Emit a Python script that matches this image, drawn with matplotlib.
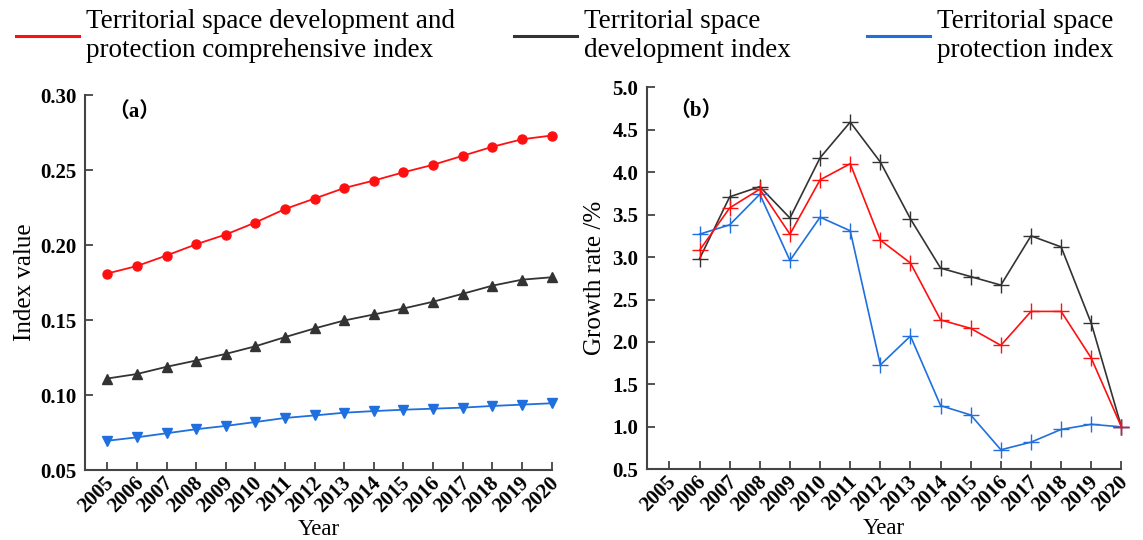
import matplotlib
matplotlib.use("Agg")
import matplotlib.pyplot as plt
from matplotlib.lines import Line2D
from matplotlib.transforms import ScaledTranslation

plt.rcParams['font.family'] = ['Liberation Serif', 'Noto Sans CJK SC']

years = list(range(2005, 2021))
year_labels = [str(y) for y in years]

# Panel (a): index values
comprehensive_index = [0.181, 0.186, 0.193, 0.2005, 0.207, 0.215, 0.224, 0.231, 0.238, 0.243,
                       0.2485, 0.2535, 0.2595, 0.2655, 0.2705, 0.273]
development_index = [0.111, 0.114, 0.1188, 0.123, 0.1274, 0.1325, 0.1386, 0.1444, 0.1497, 0.1537,
                     0.1577, 0.1622, 0.1675, 0.1729, 0.1769, 0.1785]
protection_index = [0.0695, 0.0718, 0.0745, 0.0772, 0.0794, 0.082, 0.0847, 0.0864, 0.0882, 0.0893,
                    0.0902, 0.0909, 0.0916, 0.0927, 0.0936, 0.0945]

# Panel (b): growth rates (%), 2006-2020
growth_years = list(range(2006, 2021))
comprehensive_growth = [3.08, 3.58, 3.80, 3.27, 3.91, 4.10, 3.20, 2.93, 2.26, 2.16, 1.96, 2.36, 2.36, 1.81, 1.00]
development_growth = [2.98, 3.71, 3.83, 3.46, 4.17, 4.59, 4.12, 3.45, 2.87, 2.77, 2.67, 3.25, 3.12, 2.22, 1.00]
protection_growth = [3.27, 3.38, 3.74, 2.96, 3.47, 3.31, 1.73, 2.07, 1.25, 1.14, 0.73, 0.82, 0.97, 1.03, 1.00]

legend_labels = ["Territorial space development and\nprotection comprehensive index",
                 "Territorial space\ndevelopment index",
                 "Territorial space\nprotection index"]

RED = '#FF1010'
BLACK = '#333333'
BLUE = '#1F6FDE'
SPINE = '#444444'

fig = plt.figure(figsize=(11.43, 5.4), dpi=100)
ax_a = fig.add_axes([0.0744, 0.1296, 0.4082, 0.6944])
ax_b = fig.add_axes([0.5659, 0.1309, 0.4152, 0.7074])

offset = ScaledTranslation(11 / 100, 0, fig.dpi_scale_trans)


def style(ax):
    for s in ['top', 'right']:
        ax.spines[s].set_visible(False)
    for s in ['left', 'bottom']:
        ax.spines[s].set_linewidth(1.5)
        ax.spines[s].set_color(SPINE)
    ax.tick_params(axis='both', direction='in', length=6, width=1.3, color=SPINE,
                   labelsize=15)
    ax.tick_params(axis='y', pad=6)
    ax.tick_params(axis='x', pad=2)
    ax.set_xticks(years)
    ax.set_xticklabels(year_labels, rotation=45, ha='right', va='top', fontweight='bold')
    for lab in ax.get_xticklabels():
        lab.set_transform(lab.get_transform() + offset)
    for lab in ax.get_yticklabels():
        lab.set_fontweight('bold')
    ax.set_xlim(2004.25, 2020)
    ax.set_xlabel('Year', fontsize=16.5, labelpad=2)


ax_a.plot(years, comprehensive_index, color=RED, lw=1.3, marker='o', ms=6.5, clip_on=False)
ax_a.plot(years, development_index, color=BLACK, lw=1.3, marker='^', ms=7, clip_on=False)
ax_a.plot(years, protection_index, color=BLUE, lw=1.3, marker='v', ms=7, clip_on=False)
ax_a.set_ylim(0.05, 0.30)
ax_a.set_yticks([0.05, 0.10, 0.15, 0.20, 0.25, 0.30])
ax_a.set_yticklabels(['0.05', '0.10', '0.15', '0.20', '0.25', '0.30'])
style(ax_a)
ax_a.set_ylabel('Index value', fontsize=18, labelpad=3)
ax_a.text(0.105, 0.955, '（a）', transform=ax_a.transAxes, ha='center', va='center',
          fontsize=15, fontweight='bold')

ax_b.plot(growth_years, development_growth, color=BLACK, lw=1.2, marker='+', ms=11, mew=1.0, clip_on=False)
ax_b.plot(growth_years, protection_growth, color=BLUE, lw=1.2, marker='+', ms=11, mew=1.0, clip_on=False)
ax_b.plot(growth_years, comprehensive_growth, color=RED, lw=1.2, marker='+', ms=11, mew=1.0, clip_on=False)
ax_b.set_ylim(0.5, 5.0)
ax_b.set_yticks([0.5, 1.0, 1.5, 2.0, 2.5, 3.0, 3.5, 4.0, 4.5, 5.0])
ax_b.set_yticklabels(['0.5', '1.0', '1.5', '2.0', '2.5', '3.0', '3.5', '4.0', '4.5', '5.0'])
style(ax_b)
ax_b.set_ylabel('Growth rate /%', fontsize=18, labelpad=5)
ax_b.text(0.104, 0.939, '（b）', transform=ax_b.transAxes, ha='center', va='center',
          fontsize=15, fontweight='bold')

# Legend entries across the top
colors = [RED, BLACK, BLUE]
anchors_x = [16 / 1143, 514 / 1143, 867 / 1143]
for lab, c, xa in zip(legend_labels, colors, anchors_x):
    h = Line2D([], [], color=c, lw=2.2)
    fig.legend(handles=[h], labels=[lab], loc='upper left', bbox_to_anchor=(xa, 1 - 9 / 540),
               frameon=False, fontsize=19.5, handlelength=2.33, handletextpad=0.26,
               borderpad=0, borderaxespad=0)

fig.savefig('out.png', dpi=100)
